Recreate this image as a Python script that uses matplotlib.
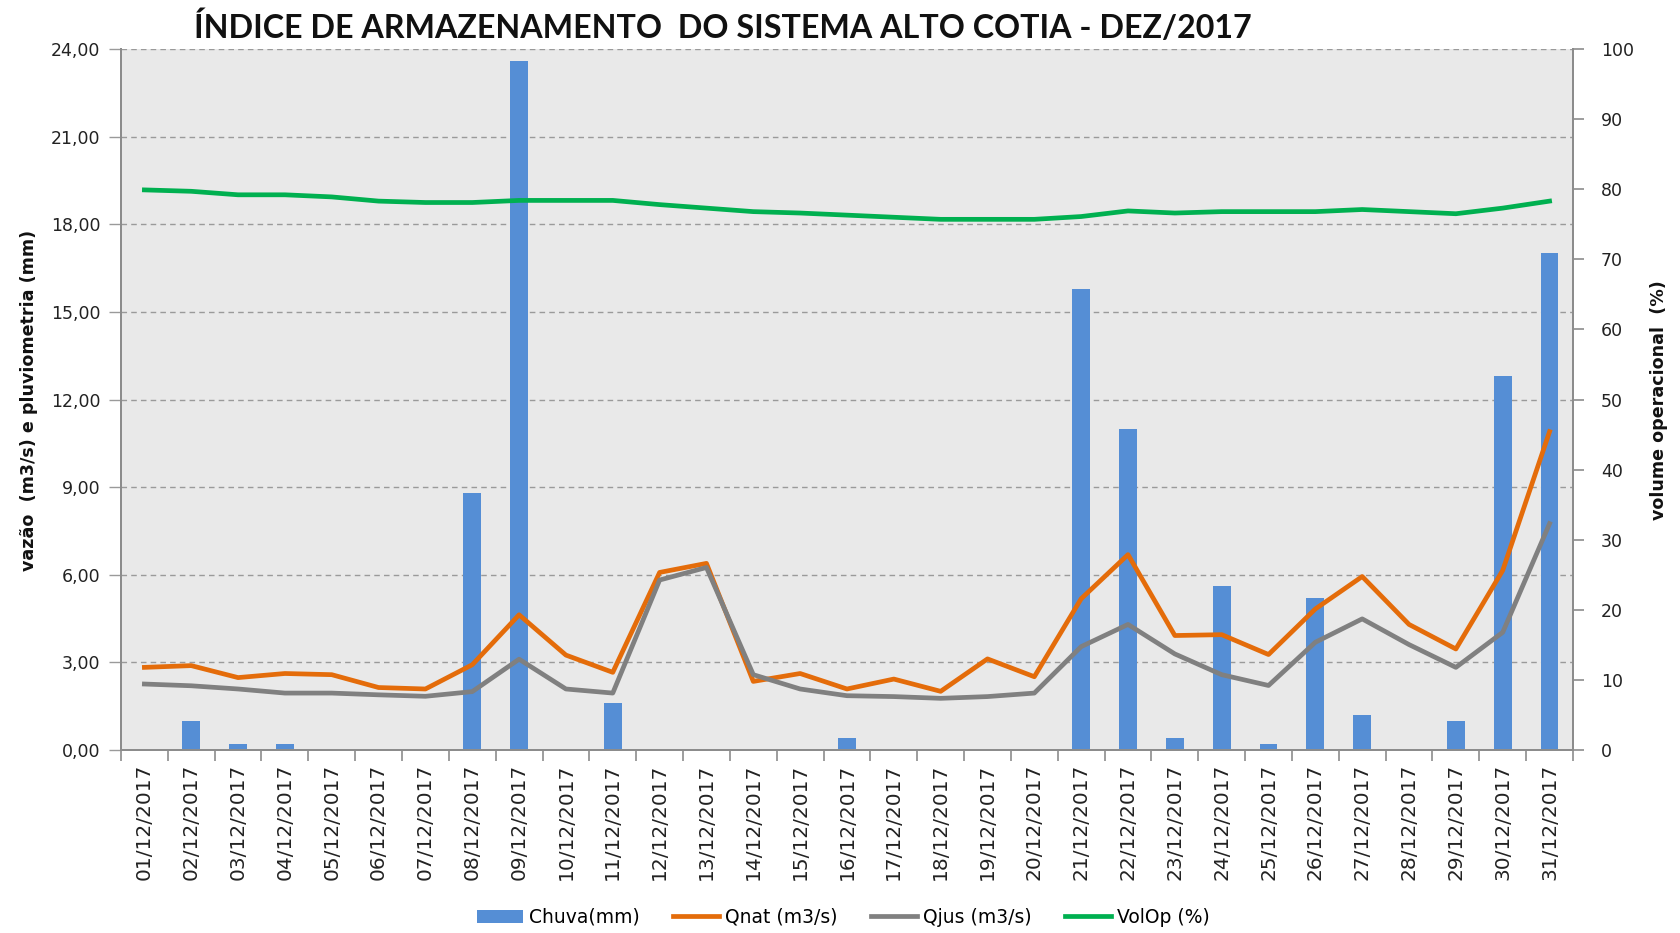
import matplotlib
matplotlib.use('Agg')
import matplotlib.pyplot as plt

# ── data ──
dias = ['%02d/12/2017' % d for d in range(1, 32)]

chuva = [0.0, 1.0, 0.2, 0.2, 0.0, 0.0, 0.0, 8.8, 23.6, 0.0,
         1.6, 0.0, 0.0, 0.0, 0.0, 0.4, 0.0, 0.0, 0.0, 0.0,
         15.8, 11.0, 0.4, 5.6, 0.2, 5.2, 1.2, 0.0, 1.0, 12.8, 17.0]

qnat = [2.83, 2.89, 2.48, 2.62, 2.58, 2.14, 2.09, 2.92, 4.63, 3.25,
        2.66, 6.08, 6.39, 2.35, 2.62, 2.09, 2.43, 2.01, 3.12, 2.51,
        5.18, 6.69, 3.92, 3.95, 3.27, 4.83, 5.94, 4.30, 3.46, 6.15, 10.9]

qjus = [2.26, 2.20, 2.09, 1.95, 1.95, 1.89, 1.84, 2.00, 3.11, 2.09,
        1.95, 5.82, 6.25, 2.58, 2.09, 1.86, 1.83, 1.77, 1.83, 1.95,
        3.54, 4.30, 3.29, 2.58, 2.21, 3.69, 4.49, 3.61, 2.83, 4.03, 7.75]

volop = [79.9, 79.7, 79.2, 79.2, 78.9, 78.3, 78.1, 78.1, 78.4, 78.4,
         78.4, 77.8, 77.3, 76.8, 76.6, 76.3, 76.0, 75.7, 75.7, 75.7,
         76.1, 76.9, 76.6, 76.8, 76.8, 76.8, 77.1, 76.8, 76.5, 77.3, 78.3]

left_ticks = [0, 3, 6, 9, 12, 15, 18, 21, 24]
right_ticks = [0, 10, 20, 30, 40, 50, 60, 70, 80, 90, 100]

# ── colours ──
c_bar = '#558ED5'
c_nat = '#E46C0A'
c_jus = '#808080'
c_vol = '#00B050'
c_axis = '#8C8C8C'

plt.rcParams['font.family'] = ['DejaVu Sans']

fig = plt.figure(figsize=(16.8, 9.33), dpi=100)
ax = fig.add_axes([0.072, 0.1961, 0.8643, 0.7514])
ax2 = ax.twinx()

x = list(range(len(dias)))

ax.set_facecolor('#E9E9E9')
b = ax.bar(x, chuva, width=0.38, color=c_bar, zorder=2, label='Chuva(mm)')
l1, = ax.plot(x, qnat, color=c_nat, lw=3.4, zorder=3, label='Qnat (m3/s)')
l2, = ax.plot(x, qjus, color=c_jus, lw=3.4, zorder=3, label='Qjus (m3/s)')
l3, = ax2.plot(x, volop, color=c_vol, lw=3.4, zorder=3, label='VolOp (%)')

ax.set_xlim(-0.5, 30.5)
ax.set_ylim(0, 24)
ax2.set_ylim(0, 100)

# left axis
ax.set_yticks(left_ticks)
ax.set_yticklabels([('%.2f' % v).replace('.', ',') for v in left_ticks],
                   fontsize=12.5, color='#222222')
ax.yaxis.grid(True, linestyle=(0, (4, 3)), color='#9A9A9A', lw=1.0, zorder=1)
ax.set_axisbelow(True)

# right axis
ax2.set_yticks(right_ticks)
ax2.set_yticklabels([str(v) for v in right_ticks], fontsize=12.5, color='#222222')

# x axis: labels at centres, tick marks at boundaries
ax.set_xticks(x)
ax.set_xticklabels(dias, rotation=90, fontsize=14.5, color='#222222')
ax.set_xticks([i - 0.5 for i in range(len(dias) + 1)], minor=True)
ax.tick_params(axis='x', which='major', length=0, pad=10)
ax.tick_params(axis='x', which='minor', length=8, color=c_axis, width=1.2)
ax.tick_params(axis='y', length=9, color='#9A9A9A', width=1.0, pad=6)
ax2.tick_params(axis='y', length=8, color=c_axis, width=1.2, pad=12)

for a in (ax, ax2):
    for s in a.spines.values():
        s.set_color(c_axis)
        s.set_linewidth(1.4)
    a.spines['top'].set_visible(False)

# titles / labels
fig.text(0.430, 0.971, 'ÍNDICE DE ARMAZENAMENTO  DO SISTEMA ALTO COTIA - DEZ/2017',
         ha='center', va='center', fontsize=23.2, fontweight='bold',
         family=['Lato', 'DejaVu Sans'], color='#111111')
fig.text(0.0175, 0.571, 'vazão  (m3/s) e pluviometria (mm)', rotation=90,
         ha='center', va='center', fontsize=12.6, fontweight='bold', color='#111111')
fig.text(0.9875, 0.571, 'volume operacional  (%)', rotation=90,
         ha='center', va='center', fontsize=12.6, fontweight='bold', color='#111111')

# legend
fig.legend([b, l1, l2, l3], ['Chuva(mm)', 'Qnat (m3/s)', 'Qjus (m3/s)', 'VolOp (%)'],
           loc='center', bbox_to_anchor=(0.502, 0.017),
           ncol=4, frameon=False, fontsize=13.5, handlelength=2.45,
           handletextpad=0.3, columnspacing=1.8)

fig.savefig('out.png', dpi=100, facecolor='white')
